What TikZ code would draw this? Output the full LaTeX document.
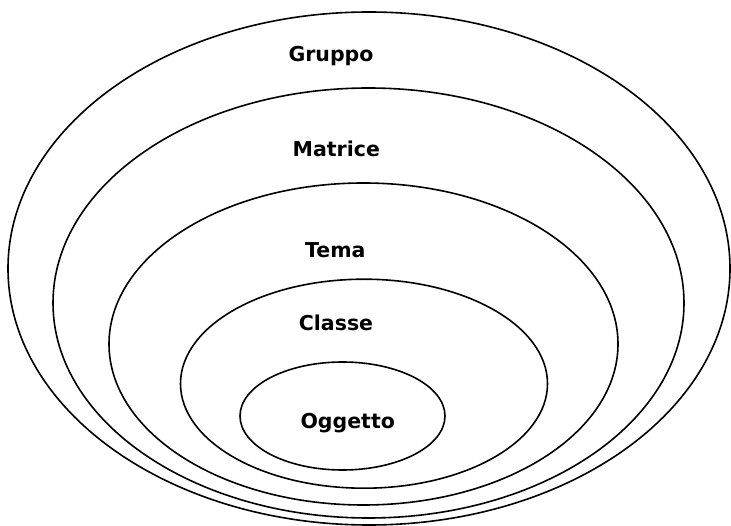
\documentclass[tikz,border=0pt]{standalone}
\usepackage{fontspec}
\setmainfont{DejaVu Sans}
\usetikzlibrary{shapes.geometric}
\begin{document}
\begin{tikzpicture}[x=1pt,y=-1pt,
  ring/.style={draw=black,line width=1.6pt,ellipse,inner sep=0pt,outer sep=0pt},
  lbl/.style={anchor=base,inner sep=0pt,font=\fontsize{20.5}{24}\selectfont\bfseries}]
\useasboundingbox (0,0) rectangle (731,526);
\fill[white] (0,0) rectangle (731,526);
\node[ring,minimum width=722pt,minimum height=513pt] (gruppo) at (369,268.5) {};
\node[ring,minimum width=631pt,minimum height=430pt] (matrice) at (368.5,303) {};
\node[ring,minimum width=509pt,minimum height=322pt] (tema) at (363.5,344) {};
\node[ring,minimum width=367pt,minimum height=209pt] (classe) at (364,383.7) {};
\node[ring,minimum width=205pt,minimum height=108pt] (oggetto) at (342.5,416) {};
\node[lbl] (tg) at (331,61.7) {Gruppo};
\node[lbl] (tm) at (336.3,156.7) {Matrice};
\node[lbl] (tt) at (335.3,257.3) {Tema};
\node[lbl] (tc) at (336,331) {Classe};
\node[lbl] (to) at (347.7,428.3) {Oggetto};
\end{tikzpicture}
\end{document}
